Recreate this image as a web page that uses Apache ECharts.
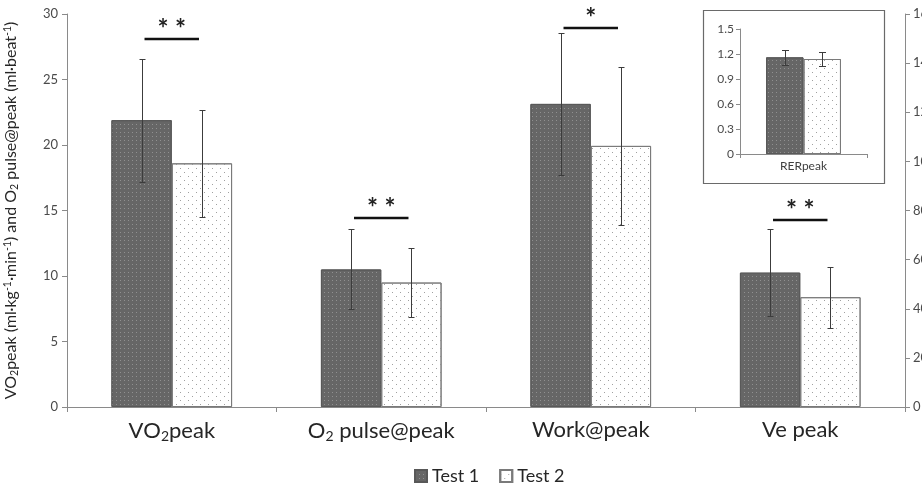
<!DOCTYPE html>
<html><head><meta charset="utf-8">
<script src="https://cdn.jsdelivr.net/npm/echarts@6/dist/echarts.min.js"></script>
<style>html,body{margin:0;padding:0;background:#fff}#c{width:922px;height:485px}</style>
</head><body><div id="c"></div>
<script>
// ---- data ----
const categories = ['VO2peak', 'O2 pulse@peak', 'Work@peak', 'Ve peak'];
const valueAxisOf = [0, 0, 1, 1];            // 0 = left axis, 1 = right axis
const test1Mean = [21.9, 10.5, 123.4, 54.7];
const test1SD   = [4.7, 3.05, 29.0, 17.6];
const test2Mean = [18.6, 9.5, 106.3, 44.7];
const test2SD   = [4.1, 2.65, 32.3, 12.5];
const sigLevel  = ['**', '**', '*', '**'];
const sigY      = [28.1, 14.4, 28.9, 14.3];  // left-axis units
const leftAxisMax = 30, leftAxisStep = 5;
const rightAxisMax = 160, rightAxisStep = 20;
const rerCategory = ['RERpeak'];
const rerMean = [1.16, 1.14];
const rerSD   = [0.088, 0.084];
const rerAxisMax = 1.5, rerAxisStep = 0.3;
const seriesNames = ['Test 1', 'Test 2'];

// ---- styles ----
const FONT = 'Lato';
const GAP_MAIN = 0.424, GAP_INSET = 0.41;
const style1 = {
  color: '#666666', borderColor: '#585858', borderWidth: 1,
  decal: { symbol: 'rect', symbolSize: 1, dashArrayX: [1, 3], dashArrayY: [1, 3], color: '#909090' }
};
const style2 = {
  color: '#ffffff', borderColor: '#7a7a7a', borderWidth: 1,
  decal: { symbol: 'rect', symbolSize: 1, dashArrayX: [[1, 7], [0, 4, 1, 3]], dashArrayY: [1, 3], color: '#a0a0a0' }
};

function pick(arr, axis) { return arr.map((v, i) => valueAxisOf[i] === axis ? v : '-'); }
function errData(axis) {
  const out = [];
  categories.forEach((c, i) => {
    if (valueAxisOf[i] !== axis) return;
    out.push([i, 0, test1Mean[i] - test1SD[i], test1Mean[i] + test1SD[i]]);
    out.push([i, 1, test2Mean[i] - test2SD[i], test2Mean[i] + test2SD[i]]);
  });
  return out;
}
function errRender(gapFrac, cap) {
  return function (params, api) {
    const cat = api.value(0), which = api.value(1);
    const lo = api.coord([cat, api.value(2)]);
    const hi = api.coord([cat, api.value(3)]);
    const bw = api.size([1, 0])[0] * (1 - gapFrac) / 2;
    const x = Math.round(lo[0] + (which === 0 ? -0.5 : 0.5) * bw) + 0.5;
    const y1 = Math.round(lo[1]) + 0.5, y2 = Math.round(hi[1]) + 0.5;
    const st = { stroke: '#3c3c3c', lineWidth: 1 };
    return { type: 'group', children: [
      { type: 'line', shape: { x1: x, y1: y1, x2: x, y2: y2 }, style: st },
      { type: 'line', shape: { x1: x - cap, y1: y1, x2: x + cap, y2: y1 }, style: st },
      { type: 'line', shape: { x1: x - cap, y1: y2, x2: x + cap, y2: y2 }, style: st }
    ] };
  };
}
function sigRender(params, api) {
  const p = api.coord([api.value(0), api.value(1)]);
  const half = api.size([1, 0])[0] * 0.13;
  const y = Math.round(p[1]);
  return { type: 'group', children: [
    { type: 'line', shape: { x1: p[0] - half, y1: y, x2: p[0] + half, y2: y }, style: { stroke: '#111', lineWidth: 2.5 } },
    { type: 'text', x: p[0], y: y + 4, style: {
        text: sigLevel[params.dataIndex].split('').join(' '), align: 'center', verticalAlign: 'bottom',
        fontSize: 26, fontWeight: 'bold', fontFamily: FONT, fill: '#222' } }
  ] };
}
function catLabel(v) {
  const parts = v.split('O2');
  return parts.map(p => p ? '{a|' + p + '}' : '').join('{a|O}{s|2}');
}

const axisLineStyle = { lineStyle: { color: '#8a8a8a', width: 1 } };
const chart = echarts.init(document.getElementById('c'));
chart.setOption({
  animation: false,
  backgroundColor: '#fff',
  textStyle: { fontFamily: FONT },
  grid: [
    { left: 67, right: 17, top: 14, bottom: 78, outerBoundsMode: 'none', containLabel: false },
    { left: 740, top: 29, width: 127, height: 125, outerBoundsMode: 'none', containLabel: false }
  ],
  legend: {
    data: seriesNames, left: 409, top: 462, itemWidth: 12, itemHeight: 12, itemGap: 20,
    icon: 'rect', selectedMode: false,
    textStyle: { fontSize: 18, color: '#262626', fontFamily: FONT }
  },
  xAxis: [
    { type: 'category', gridIndex: 0, data: categories,
      axisLine: axisLineStyle, axisTick: { show: true, length: 5, lineStyle: { color: '#8a8a8a' } },
      axisLabel: { margin: 12, formatter: catLabel,
        rich: { a: { fontSize: 22, color: '#262626', fontFamily: FONT },
                s: { fontSize: 14, color: '#262626', fontFamily: FONT, verticalAlign: 'bottom', padding: [10, 0, 0, 0] } } } },
    { type: 'category', gridIndex: 1, data: rerCategory,
      axisLine: axisLineStyle, axisTick: { show: true, length: 4, lineStyle: { color: '#8a8a8a' } },
      axisLabel: { fontSize: 12, color: '#404040', margin: 6 } }
  ],
  yAxis: [
    { type: 'value', gridIndex: 0, min: 0, max: leftAxisMax, interval: leftAxisStep, position: 'left',
      axisLine: { show: true, ...axisLineStyle }, axisTick: { show: true, length: 5, lineStyle: { color: '#8a8a8a' } },
      splitLine: { show: false },
      axisLabel: { fontSize: 13, color: '#4a4a4a', margin: 9 },
      name: '{a|VO}{s|2}{a|peak (ml·kg}{p|-1}{a|·min}{p|-1}{a|) and O}{s|2}{a| pulse@peak (ml·beat}{p|-1}{a|)}',
      nameLocation: 'middle', nameRotate: 90, nameGap: 47,
      nameTextStyle: { rich: {
        a: { fontSize: 16, color: '#262626', fontFamily: FONT },
        s: { fontSize: 10.5, color: '#262626', fontFamily: FONT, verticalAlign: 'bottom', padding: [7, 0, 0, 0] },
        p: { fontSize: 10.5, color: '#262626', fontFamily: FONT, verticalAlign: 'top', padding: [0, 0, 6, 0] } } } },
    { type: 'value', gridIndex: 0, min: 0, max: rightAxisMax, interval: rightAxisStep, position: 'right',
      axisLine: { show: true, ...axisLineStyle }, axisTick: { show: true, length: 5, lineStyle: { color: '#8a8a8a' } },
      splitLine: { show: false },
      axisLabel: { fontSize: 13, color: '#4a4a4a', margin: 8 } },
    { type: 'value', gridIndex: 1, min: 0, max: rerAxisMax, interval: rerAxisStep,
      axisLine: { show: true, ...axisLineStyle }, axisTick: { show: true, length: 4, lineStyle: { color: '#8a8a8a' } },
      splitLine: { show: false },
      axisLabel: { fontSize: 12, color: '#4a4a4a', margin: 6 } }
  ],
  graphic: [
    { type: 'rect', shape: { x: 703.5, y: 10.5, width: 181, height: 173 },
      style: { fill: 'none', stroke: '#6a6a6a', lineWidth: 1.2 }, z: 10 }
  ],
  series: [
    { type: 'bar', name: seriesNames[0], xAxisIndex: 0, yAxisIndex: 0, stack: 't1', data: pick(test1Mean, 0),
      barGap: '0%', barCategoryGap: (GAP_MAIN * 100) + '%', itemStyle: style1 },
    { type: 'bar', name: seriesNames[0], xAxisIndex: 0, yAxisIndex: 1, stack: 't1', data: pick(test1Mean, 1),
      barGap: '0%', barCategoryGap: (GAP_MAIN * 100) + '%', itemStyle: style1 },
    { type: 'bar', name: seriesNames[1], xAxisIndex: 0, yAxisIndex: 0, stack: 't2', data: pick(test2Mean, 0),
      barGap: '0%', barCategoryGap: (GAP_MAIN * 100) + '%', itemStyle: style2 },
    { type: 'bar', name: seriesNames[1], xAxisIndex: 0, yAxisIndex: 1, stack: 't2', data: pick(test2Mean, 1),
      barGap: '0%', barCategoryGap: (GAP_MAIN * 100) + '%', itemStyle: style2 },
    { type: 'custom', xAxisIndex: 0, yAxisIndex: 0, data: errData(0), renderItem: errRender(GAP_MAIN, 3),
      encode: { x: 0, y: [2, 3] }, z: 5, silent: true },
    { type: 'custom', xAxisIndex: 0, yAxisIndex: 1, data: errData(1), renderItem: errRender(GAP_MAIN, 3),
      encode: { x: 0, y: [2, 3] }, z: 5, silent: true },
    { type: 'custom', xAxisIndex: 0, yAxisIndex: 0, data: sigY.map((y, i) => [i, y]), renderItem: sigRender,
      encode: { x: 0, y: 1 }, z: 6, silent: true },
    { type: 'bar', name: seriesNames[0], xAxisIndex: 1, yAxisIndex: 2, data: [rerMean[0]],
      barGap: '0%', barCategoryGap: (GAP_INSET * 100) + '%', itemStyle: style1 },
    { type: 'bar', name: seriesNames[1], xAxisIndex: 1, yAxisIndex: 2, data: [rerMean[1]],
      barGap: '0%', barCategoryGap: (GAP_INSET * 100) + '%', itemStyle: style2 },
    { type: 'custom', xAxisIndex: 1, yAxisIndex: 2,
      data: rerMean.map((m, k) => [0, k, m - rerSD[k], m + rerSD[k]]), renderItem: errRender(GAP_INSET, 3.5),
      encode: { x: 0, y: [2, 3] }, z: 5, silent: true }
  ]
});
</script></body></html>
